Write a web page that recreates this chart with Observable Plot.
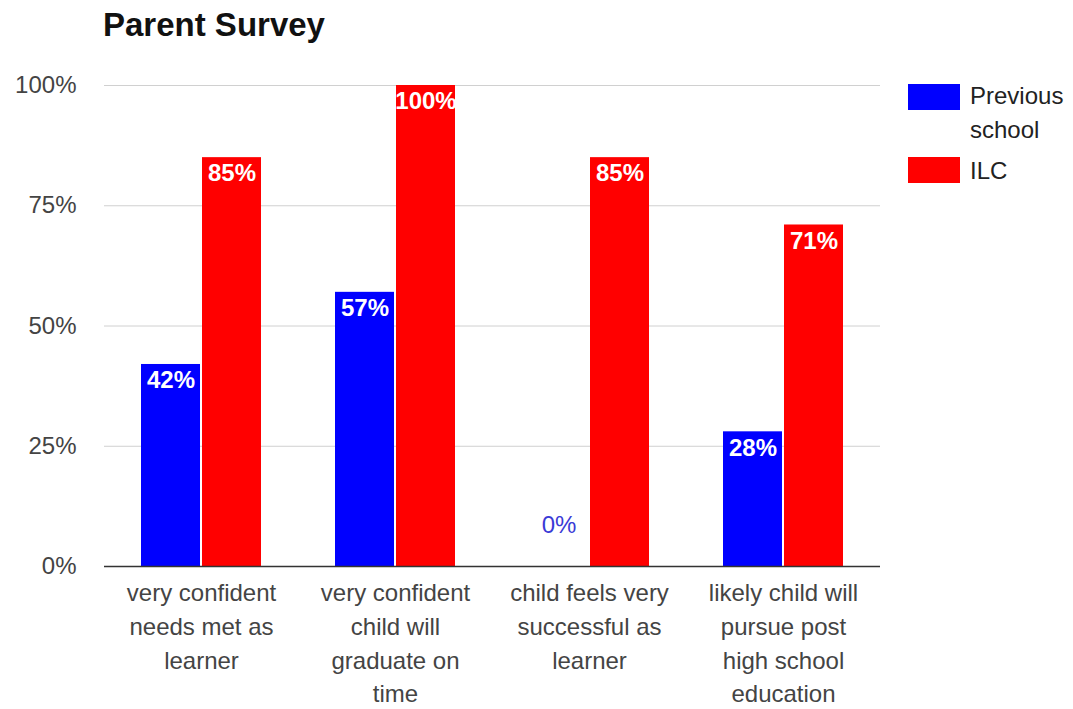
<!DOCTYPE html>
<html><head><meta charset="utf-8">
<script src="https://cdn.jsdelivr.net/npm/d3@7"></script>
<script src="https://cdn.jsdelivr.net/npm/@observablehq/plot@0.6"></script>
<style>
body{margin:0;background:#fff;font-family:"Liberation Sans",Arial,sans-serif;}
#wrap{position:relative;width:1073px;height:709px;overflow:hidden;}
#title{position:absolute;left:103px;top:6px;font-size:33px;font-weight:bold;color:#111;}
.sw{position:absolute;left:908px;width:52px;height:26px;}
.lt{position:absolute;left:970px;width:103px;font-size:24px;line-height:34px;color:#222;}
#chart{position:absolute;left:0;top:0;}
</style></head>
<body>
<div id="wrap">
  <div id="chart"></div>
  <div id="title">Parent Survey</div>
  <div id="legend"></div>
</div>
<script>
const title = "Parent Survey";
const categories = [
  "very confident\nneeds met as\nlearner",
  "very confident\nchild will\ngraduate on\ntime",
  "child feels very\nsuccessful as\nlearner",
  "likely child will\npursue post\nhigh school\neducation"
];
const seriesNames = ["Previous school", "ILC"];
const previousSchool = [42, 57, 0, 28];
const ilc = [85, 100, 85, 71];
const seriesColors = ["#0000ff", "#ff0000"];
const yTicks = [0, 25, 50, 75, 100];

const seriesValues = [previousSchool, ilc];
const rows = categories.flatMap((c, i) => seriesNames.map((s, j) => ({category: c, series: s, value: seriesValues[j][i]})));

const chart = Plot.plot({
  width: 1073, height: 709,
  marginTop: 85, marginBottom: 143, marginLeft: 103, marginRight: 193,
  style: {fontFamily: "Liberation Sans, Arial, sans-serif", background: "transparent"},
  fx: {domain: categories, padding: 0, label: null},
  x: {domain: seriesNames, paddingInner: 0.03, paddingOuter: 0.6, axis: null},
  y: {domain: [0, 100], label: null},
  color: {domain: seriesNames, range: seriesColors},
  marks: [
    Plot.ruleY(yTicks.filter(d => d > 0), {stroke: "#d0d0d0"}),
    Plot.axisY(yTicks, {tickSize: 0, tickPadding: 28, fontSize: 24, fill: "#444", tickFormat: d => d + "%", label: null}),
    Plot.barY(rows, {fx: "category", x: "series", y: "value", fill: "series"}),
    Plot.ruleY([0], {stroke: "#333", strokeWidth: 1.5}),
    Plot.text(rows.filter(d => d.value > 0), {fx: "category", x: "series", y: "value", text: d => d.value + "%", fill: "white", fontWeight: "bold", fontSize: 24, dy: 16}),
    Plot.text(rows.filter(d => d.value === 0), {fx: "category", x: "series", y: "value", text: d => d.value + "%", fill: "#3a3ad6", fontSize: 24, dy: -41}),
    Plot.axisFx({anchor: "bottom", tickSize: 0, tickPadding: 11, fontSize: 24, lineHeight: 1.4, fill: "#444", label: null})
  ]
});
document.getElementById("chart").appendChild(chart);

const legend = document.getElementById("legend");
const swTops = [84, 157];
const textTops = [79, 154];
seriesNames.forEach((s, i) => {
  const sw = document.createElement("div");
  sw.className = "sw"; sw.style.top = swTops[i] + "px"; sw.style.background = seriesColors[i];
  legend.appendChild(sw);
  const t = document.createElement("div");
  t.className = "lt"; t.style.top = textTops[i] + "px"; t.textContent = s;
  legend.appendChild(t);
});
</script>
</body></html>
